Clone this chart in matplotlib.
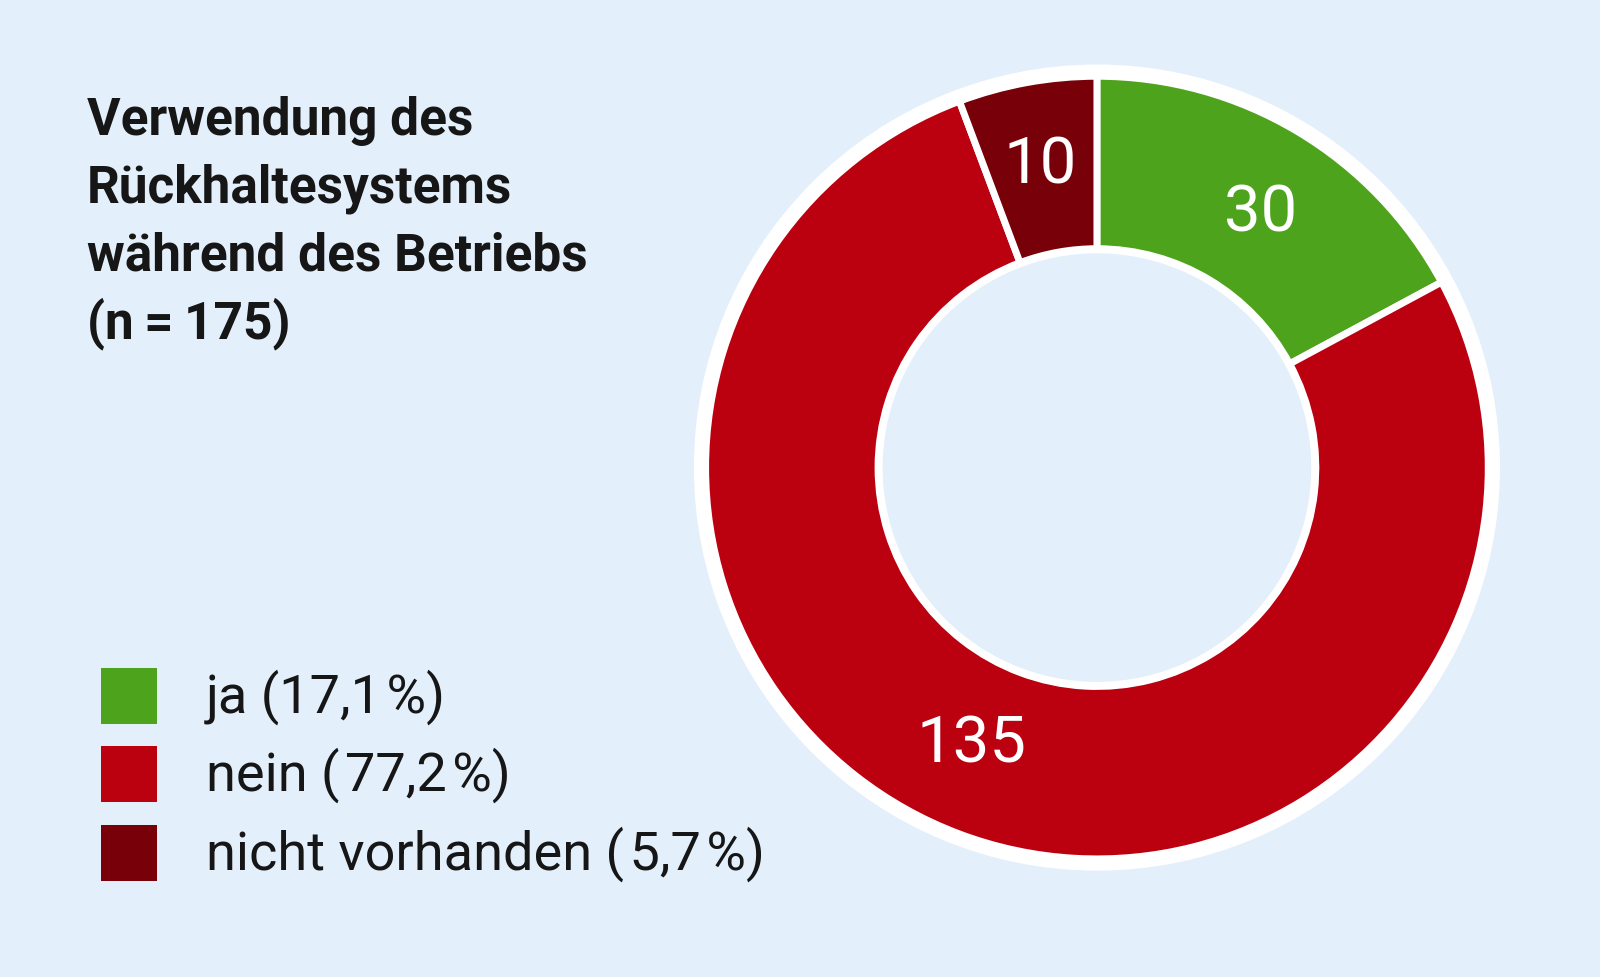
import matplotlib
matplotlib.use("Agg")
import matplotlib.pyplot as plt
from matplotlib.patches import Circle, Rectangle

# data
categories = ["ja", "nein", "nicht vorhanden"]
counts = [30, 135, 10]
percent_labels = ["(17,1\u200a%)", "(\u200a77,2\u200a%)", "(\u200a5,7\u200a%)"]
colors = ["#4ea31c", "#bb0010", "#780008"]
title_lines = ["Verwendung des", "Rückhaltesystems",
               "während des Betriebs", "(n\u2009=\u2009175)"]

bg = "#e3effb"
ink = "#161616"

# work in a 1568 x 957 unit grid laid over the 1600 x 977 px canvas
W, H = 1568, 957
fig = plt.figure(figsize=(16, 9.77), dpi=100, facecolor=bg)
ax = fig.add_axes([0, 0, 1, 1])
fonts = ["Roboto", "DejaVu Sans"]

# donut
cx, cy = 1075, H - 458
ax.add_patch(Circle((cx, cy), 395, facecolor="white", edgecolor="none", zorder=1))
wedges, _ = ax.pie(counts, colors=colors, startangle=90, counterclock=False,
                   center=(cx, cy), radius=383.5, frame=True,
                   wedgeprops=dict(width=169, edgecolor="white", linewidth=5))
for w in wedges:
    w.set_zorder(2)
ax.add_patch(Circle((cx, cy), 210, facecolor=bg, edgecolor="none", zorder=3))
ax.set_xlim(0, W)
ax.set_ylim(0, H)
ax.set_aspect("equal")
ax.axis("off")

# value labels inside the ring (x centre, baseline)
label_pos = [(1235, 227), (952, 747), (1019, 180)]
for (x, y), v in zip(label_pos, counts):
    ax.text(x, H - y, str(v), color="white", fontsize=47, family=fonts,
            ha="center", va="baseline", zorder=4)

# title, one line per baseline
for i, line in enumerate(title_lines):
    ax.text(85, H - (132 + 66.5 * i), line, fontsize=37, fontweight="bold",
            family=fonts, color=ink, ha="left", va="baseline")

# legend
for i, (c, cat, p) in enumerate(zip(colors, categories, percent_labels)):
    top = 654 + 77 * i
    ax.add_patch(Rectangle((99, H - top - 55), 55, 55, facecolor=c, edgecolor="none"))
    ax.text(202, H - (top + 44), f"{cat} {p}", fontsize=39, family=fonts,
            color=ink, ha="left", va="baseline")

fig.savefig("out.png", dpi=100, facecolor=bg)
